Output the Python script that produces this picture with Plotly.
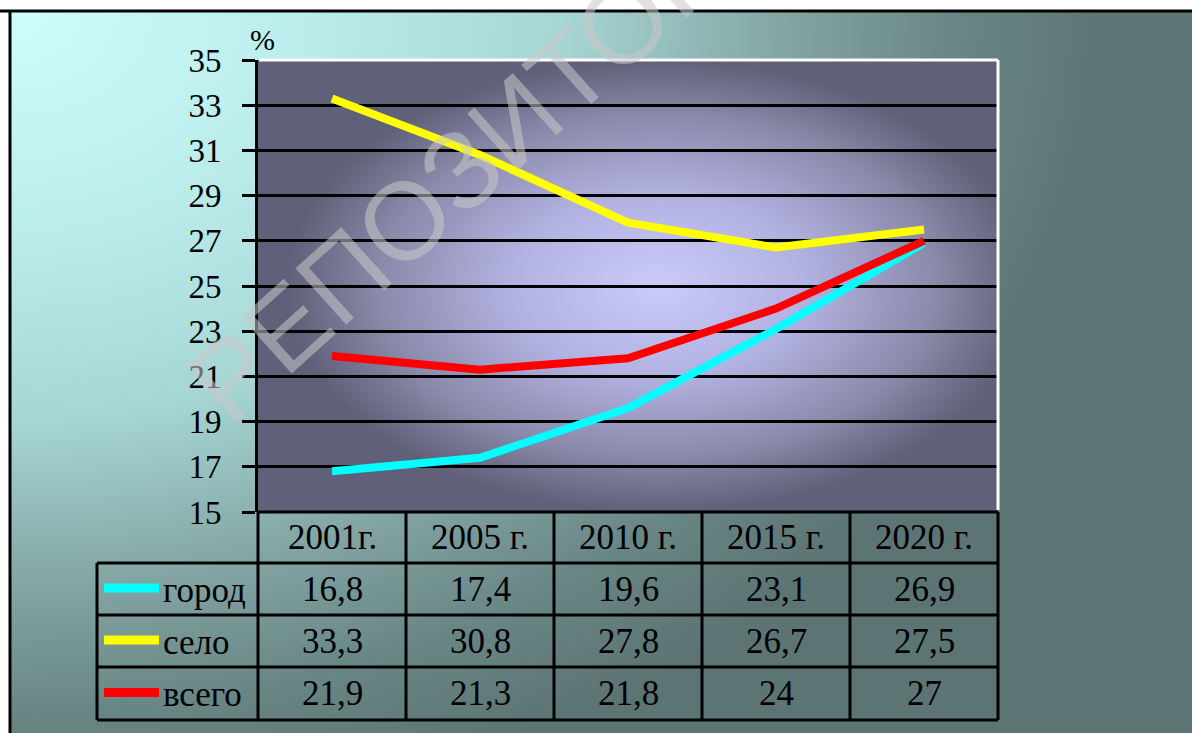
import base64
import plotly.graph_objects as go

# ---------------- data ----------------
years = ["2001г.", "2005 г.", "2010 г.", "2015 г.", "2020 г."]
gorod = [16.8, 17.4, 19.6, 23.1, 26.9]
selo = [33.3, 30.8, 27.8, 26.7, 27.5]
vsego = [21.9, 21.3, 21.8, 24, 27]
series_names = ["город", "село", "всего"]
series_values = [gorod, selo, vsego]
series_colors = ["#00ffff", "#ffff00", "#ff0000"]
y_ticks = [15, 17, 19, 21, 23, 25, 27, 29, 31, 33, 35]

def fmt(v):
    s = ("%g" % v)
    return s.replace(".", ",")

# ---------------- geometry (pixels) ----------------
W, H = 1192, 733
PL, PR, PT, PB = 258, 998, 60, 512
pw, ph = PR - PL, PB - PT

def px(x):
    return (x - PL) / pw

def py(y):
    return (PB - y) / ph

SERIF = "Liberation Serif, Times New Roman, serif"

fig = go.Figure()
x_idx = list(range(len(years)))
for name, vals, col in zip(series_names, series_values, series_colors):
    fig.add_trace(go.Scatter(x=x_idx, y=vals, mode="lines", name=name,
                             line=dict(color=col, width=8), showlegend=False,
                             hoverinfo="skip"))

# ---------------- background images (gradients) ----------------
bg_svg = '''<svg xmlns="http://www.w3.org/2000/svg" width="1181" height="721" viewBox="0 0 1181 721" preserveAspectRatio="none">
<defs><radialGradient id="g" gradientUnits="userSpaceOnUse" cx="0" cy="0" r="1100" gradientTransform="scale(1,0.74)">
<stop offset="0" stop-color="#cdfcfc"/>
<stop offset="0.25" stop-color="#bdeeee"/>
<stop offset="0.5" stop-color="#a6d6d4"/>
<stop offset="0.7" stop-color="#84a6a4"/>
<stop offset="0.86" stop-color="#688685"/>
<stop offset="1" stop-color="#5d7474"/>
</radialGradient></defs>
<rect x="0" y="0" width="1181" height="721" fill="url(#g)"/></svg>'''

plot_svg = '''<svg xmlns="http://www.w3.org/2000/svg" width="740" height="452" viewBox="0 0 740 452" preserveAspectRatio="none">
<defs><radialGradient id="p" cx="0.54" cy="0.5" r="0.5">
<stop offset="0" stop-color="#cbcbfb"/>
<stop offset="0.4" stop-color="#b2b2e2"/>
<stop offset="0.75" stop-color="#8a8aaa"/>
<stop offset="1" stop-color="#60607a"/>
</radialGradient></defs>
<rect x="0" y="0" width="740" height="452" fill="url(#p)"/></svg>'''

def uri(s):
    return "data:image/svg+xml;base64," + base64.b64encode(s.encode("utf-8")).decode()

images = [
    dict(source=uri(bg_svg), xref="paper", yref="paper", x=px(11), y=py(12),
         sizex=(W - 11) / pw, sizey=(H - 12) / ph, sizing="stretch",
         xanchor="left", yanchor="top", layer="below"),
    dict(source=uri(plot_svg), xref="paper", yref="paper", x=0, y=1,
         sizex=1, sizey=1, sizing="stretch", xanchor="left", yanchor="top",
         layer="below"),
]

shapes = []
def hline(x0, x1, y, color="black", w=3):
    shapes.append(dict(type="line", xref="paper", yref="paper", x0=px(x0), x1=px(x1),
                       y0=py(y), y1=py(y), line=dict(color=color, width=w)))

def vline(x, y0, y1, color="black", w=3):
    shapes.append(dict(type="line", xref="paper", yref="paper", x0=px(x), x1=px(x),
                       y0=py(y0), y1=py(y1), line=dict(color=color, width=w)))

# outer frame of slide
hline(0, W, 11, w=3)
vline(10, 11, H, w=3)
# plot area white top/right border
hline(PL + 1, PR, PT, color="white", w=3)
vline(PR, PT, PB - 2, color="white", w=3)

# table
col_w = pw / len(years)
row_y = [PB, 563, 615, 667, 720]
LEG_X = 97
hline(PL, PR, PB)
for yy in row_y[1:]:
    hline(LEG_X, PR, yy)
vline(LEG_X, row_y[1], row_y[-1])
for k in range(len(years) + 1):
    vline(PL + col_w * k, PB, row_y[-1])

annotations = []
# header
for i, yr in enumerate(years):
    annotations.append(dict(x=i, y=py((row_y[0] + row_y[1]) / 2), xref="x", yref="paper",
                            text=yr, showarrow=False, xanchor="center", yanchor="middle",
                            font=dict(family=SERIF, size=35, color="black")))
# rows
for r, (name, vals, col) in enumerate(zip(series_names, series_values, series_colors)):
    yc = (row_y[r + 1] + row_y[r + 2]) / 2
    shapes.append(dict(type="line", xref="paper", yref="paper", x0=px(104), x1=px(159),
                       y0=py(yc - 1), y1=py(yc - 1), line=dict(color=col, width=9)))
    annotations.append(dict(x=px(161), y=py(yc + 1), xref="paper", yref="paper", text=name,
                            showarrow=False, xanchor="left", yanchor="middle",
                            font=dict(family=SERIF, size=35, color="black")))
    for i, v in enumerate(vals):
        annotations.append(dict(x=i, y=py(yc), xref="x", yref="paper", text=fmt(v),
                                showarrow=False, xanchor="center", yanchor="middle",
                                font=dict(family=SERIF, size=35, color="black")))

# percent sign
annotations.append(dict(x=px(262), y=py(40), xref="paper", yref="paper", text="%",
                        showarrow=False, xanchor="center", yanchor="middle",
                        font=dict(family=SERIF, size=30, color="black")))

# watermark
annotations.append(dict(x=px(515), y=py(120), xref="paper", yref="paper",
                        text="РЕПОЗИТОРИЙ", showarrow=False, textangle=-42,
                        xanchor="center", yanchor="middle",
                        font=dict(family="Liberation Sans, Arial, sans-serif", size=110,
                                  color="rgba(200,200,200,0.55)")))

fig.update_layout(
    width=W, height=H, autosize=False,
    margin=dict(l=PL, r=W - PR, t=PT, b=H - PB, pad=0),
    paper_bgcolor="white", plot_bgcolor="rgba(0,0,0,0)",
    images=images, shapes=shapes, annotations=annotations,
    showlegend=False,
)
fig.update_xaxes(range=[-0.5, len(years) - 0.5], showticklabels=False, showgrid=False,
                 zeroline=False, showline=False, ticks="", fixedrange=True)
fig.update_yaxes(range=[15, 35], tickvals=y_ticks, ticktext=[str(t) for t in y_ticks],
                 showgrid=True, gridcolor="black", gridwidth=3, zeroline=False,
                 showline=True, linecolor="black", linewidth=3,
                 ticks="outside", ticklen=13, tickwidth=3, tickcolor="black",
                 ticklabelstandoff=14,
                 tickfont=dict(family=SERIF, size=33, color="black"), fixedrange=True)

fig.write_html("out.html", config={"displayModeBar": False},
               post_script="document.body.style.margin='0';document.body.style.overflow='hidden';")
